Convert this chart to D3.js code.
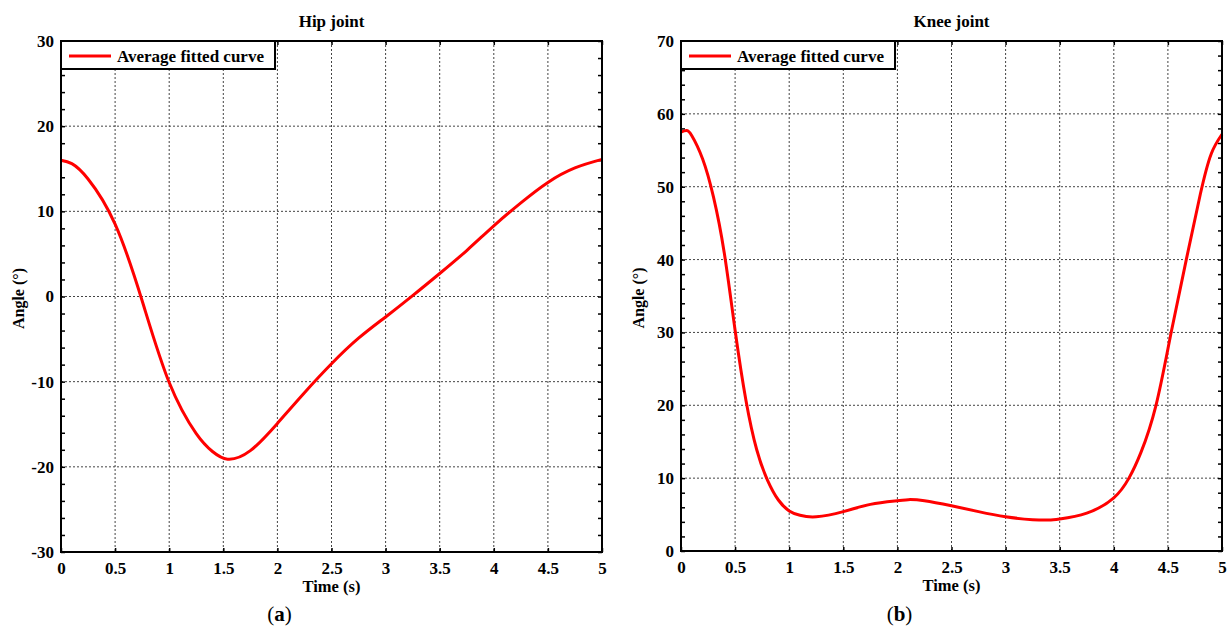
<!DOCTYPE html>
<html>
<head>
<meta charset="utf-8">
<script src="https://cdn.jsdelivr.net/npm/d3@7"></script>
<style>
  body { margin: 0; background: #fff; }
  text { font-family: "Times New Roman", "Liberation Serif", serif; font-weight: bold; fill: #000; }
</style>
</head>
<body>
<div id="my_dataviz"></div>
<script>
var xTicks = [0, 0.5, 1, 1.5, 2, 2.5, 3, 3.5, 4, 4.5, 5];
var xTickLabels = ["0", "0.5", "1", "1.5", "2", "2.5", "3", "3.5", "4", "4.5", "5"];

var hipTime  = [0, 0.1, 0.25, 0.5, 0.75, 1.0, 1.25, 1.4, 1.54, 1.75, 2.0, 2.25, 2.5, 2.75, 3.0, 3.25, 3.5, 3.75, 4.0, 4.25, 4.5, 4.75, 5.0];
var hipAngle = [16.0, 15.6, 13.8, 8.5, -0.5, -10.1, -16.1, -18.2, -19.1, -18.1, -14.9, -11.3, -7.9, -4.9, -2.4, 0.1, 2.7, 5.4, 8.3, 11.0, 13.4, 15.1, 16.1];
var hipYTicks = [-30, -20, -10, 0, 10, 20, 30];

var kneeTime  = [0, 0.05, 0.1, 0.2, 0.3, 0.4, 0.5, 0.6, 0.7, 0.8, 0.9, 1.0, 1.1, 1.25, 1.5, 1.75, 2.0, 2.1, 2.25, 2.5, 2.75, 3.0, 3.25, 3.4, 3.5, 3.75, 4.0, 4.14, 4.25, 4.39, 4.53, 4.67, 4.8, 4.9, 5.0];
var kneeAngle = [57.5, 57.7, 57.0, 53.8, 48.6, 40.9, 30.3, 20.7, 13.9, 9.7, 7.0, 5.5, 4.9, 4.7, 5.4, 6.4, 6.9, 7.05, 6.9, 6.2, 5.4, 4.7, 4.3, 4.25, 4.4, 5.2, 7.3, 10, 13.5, 20, 30, 40, 49, 54.5, 57.2];
var kneeYTicks = [0, 10, 20, 30, 40, 50, 60, 70];

var legendLabel = "Average fitted curve";

var svg = d3.select("#my_dataviz")
    .append("svg")
    .attr("width", 1229)
    .attr("height", 628);

svg.append("rect").attr("width", 1229).attr("height", 628).attr("fill", "#fff");

const drawPanel = (opts) => {
    var width = opts.right - opts.left,
        height = opts.bottom - opts.top;

    var g = svg.append("g")
        .attr("transform", "translate(" + opts.left + "," + opts.top + ")");

    var x = d3.scaleLinear().domain([0, 5]).range([0, width]);
    var y = d3.scaleLinear().domain(opts.yDomain).range([height, 0]);

    // dotted grid
    g.selectAll(".vgrid")
        .data(xTicks.slice(1, -1))
        .enter()
        .append("line")
        .attr("x1", function (d) { return x(d); })
        .attr("x2", function (d) { return x(d); })
        .attr("y1", 0)
        .attr("y2", height)
        .attr("stroke", "#444")
        .attr("stroke-width", 1)
        .attr("stroke-dasharray", "2,2");

    g.selectAll(".hgrid")
        .data(opts.yTicks.slice(1, -1))
        .enter()
        .append("line")
        .attr("x1", 0)
        .attr("x2", width)
        .attr("y1", function (d) { return y(d); })
        .attr("y2", function (d) { return y(d); })
        .attr("stroke", "#444")
        .attr("stroke-width", 1)
        .attr("stroke-dasharray", "2,2");

    // axes with inward ticks
    g.append("g")
        .attr("transform", "translate(0," + height + ")")
        .call(d3.axisBottom(x).tickValues(xTicks).tickSize(-4).tickPadding(10)
            .tickFormat(function (d, i) { return xTickLabels[i]; }))
        .call(function (a) { a.select(".domain").remove(); })
        .selectAll("text")
        .style("font-size", "17px");

    g.append("g")
        .call(d3.axisTop(x).tickValues(xTicks).tickSize(-4).tickFormat(""))
        .call(function (a) { a.select(".domain").remove(); });

    var minor = d3.range(opts.yDomain[0], opts.yDomain[1] + 0.001, 2);

    g.append("g")
        .call(d3.axisLeft(y).tickValues(minor).tickSize(-4).tickPadding(7)
            .tickFormat(function (d) { return opts.yTicks.indexOf(d) >= 0 ? d : ""; }))
        .call(function (a) { a.select(".domain").remove(); })
        .selectAll("text")
        .style("font-size", "17px");

    g.append("g")
        .attr("transform", "translate(" + width + ",0)")
        .call(d3.axisRight(y).tickValues(minor).tickSize(-4).tickFormat(""))
        .call(function (a) { a.select(".domain").remove(); });

    g.selectAll(".tick line").attr("stroke", "#000").attr("stroke-width", 1.5);

    // curve
    var pts = opts.time.map(function (t, i) { return [t, opts.angle[i]]; });
    g.append("path")
        .datum(pts)
        .attr("fill", "none")
        .attr("stroke", "#ff0000")
        .attr("stroke-width", 3)
        .attr("d", d3.line()
            .curve(d3.curveNatural)
            .x(function (d) { return x(d[0]); })
            .y(function (d) { return y(d[1]); }));

    // frame
    g.append("rect")
        .attr("width", width)
        .attr("height", height)
        .attr("fill", "none")
        .attr("stroke", "#000")
        .attr("stroke-width", 2);

    // legend
    var lg = g.append("g");
    lg.append("rect")
        .attr("width", 214)
        .attr("height", 28)
        .attr("fill", "#fff")
        .attr("stroke", "#000")
        .attr("stroke-width", 2);
    lg.append("line")
        .attr("x1", 8).attr("x2", 50)
        .attr("y1", 15).attr("y2", 15)
        .attr("stroke", "#ff0000")
        .attr("stroke-width", 3);
    lg.append("text")
        .attr("x", 56)
        .attr("y", 21)
        .style("font-size", "17px")
        .text(legendLabel);

    // title
    g.append("text")
        .attr("x", width / 2)
        .attr("y", -14)
        .style("text-anchor", "middle")
        .style("font-size", "17px")
        .text(opts.title);

    g.append("text")
        .attr("x", width / 2)
        .attr("y", height + 40)
        .style("text-anchor", "middle")
        .style("font-size", "16.5px")
        .text("Time (s)");

    g.append("text")
        .attr("transform", "rotate(-90)")
        .attr("x", -height / 2 - 2)
        .attr("y", -37)
        .style("text-anchor", "middle")
        .style("font-size", "16px")
        .text("Angle (°)");

    var cap = svg.append("text")
        .attr("x", opts.left + width / 2 - 52)
        .attr("y", 621)
        .style("text-anchor", "middle")
        .style("font-size", "21px")
        .style("font-weight", "normal");
    cap.append("tspan").text("(");
    cap.append("tspan").style("font-weight", "bold").text(opts.caption);
    cap.append("tspan").text(")");
}

drawPanel({ left: 61, right: 602, top: 41, bottom: 552, yDomain: [-30, 30], yTicks: hipYTicks,
    time: hipTime, angle: hipAngle, title: "Hip joint", caption: "a" });
drawPanel({ left: 681, right: 1222, top: 41, bottom: 551, yDomain: [0, 70], yTicks: kneeYTicks,
    time: kneeTime, angle: kneeAngle, title: "Knee joint", caption: "b" });
</script>
</body>
</html>
